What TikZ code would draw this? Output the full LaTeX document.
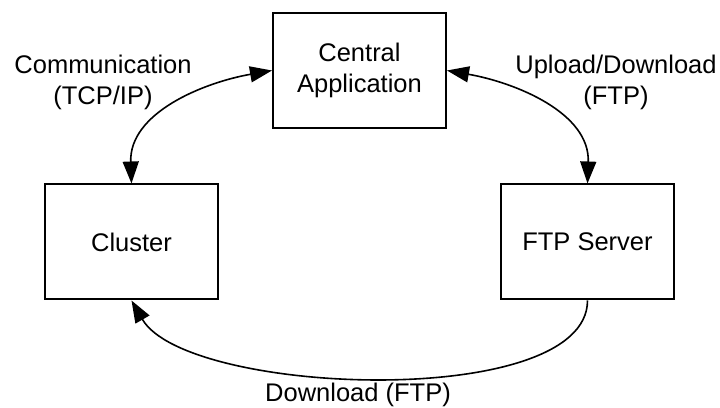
\documentclass[tikz,border=0pt]{standalone}
\usepackage{fontspec}
\setmainfont{Liberation Sans}
\usepackage{tikz}
\usetikzlibrary{arrows.meta}

\begin{document}
\begin{tikzpicture}[x=0.5pt, y=0.5pt,
    font=\fontsize{12.75}{15.5}\selectfont,
    box/.style={draw, line width=1pt, minimum width=86.5pt, minimum height=57.5pt, align=center, inner sep=0pt},
    lbl/.style={align=center, inner sep=0pt},
    link/.style={line width=0.8pt, -{Triangle[length=11pt,width=8pt]}},
    twoway/.style={line width=0.8pt, {Triangle[length=11pt,width=8pt]}-{Triangle[length=11pt,width=8pt]}}]
    \useasboundingbox (0,0) rectangle (720,408);

    % Boxes
    \node[box] (central) at (359.5,337.5) {Central\\Application};
    \node[box] (cluster) at (131.5,166) {Cluster};
    \node[box] (ftp) at (587.5,166) {FTP Server};

    % Connections
    \draw[twoway] (central.west) to[out=190, in=92] (cluster.north);
    \draw[twoway] (central.east) to[out=-10, in=88] (ftp.north);
    \draw[link] (ftp.south) to[out=-90, in=-60, looseness=0.62] (cluster.south);

    % Labels
    \node[lbl] (comm) at (103,326) {Communication\\(TCP/IP)};
    \node[lbl] (updown) at (616,326) {Upload/Download\\(FTP)};
    \node[lbl] (down) at (358,13) {Download (FTP)};
\end{tikzpicture}
\end{document}
